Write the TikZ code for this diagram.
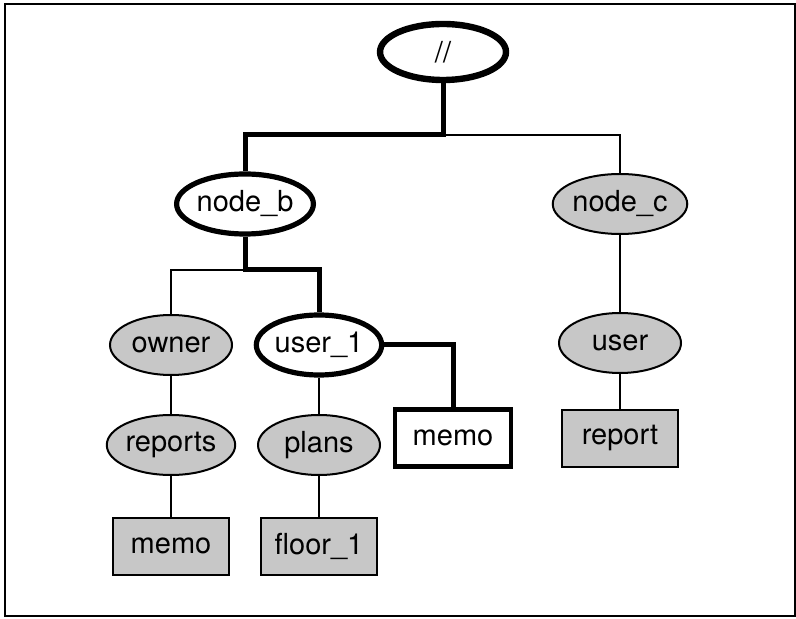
\documentclass[tikz,border=0pt]{standalone}
\usepackage{fontspec}
\setmainfont{TeX Gyre Heros}
\usetikzlibrary{shapes.geometric}

\tikzset{
	dir/.style={ellipse, draw, line width=1pt, fill=black!22, minimum width=61pt, minimum height=30pt, inner sep=0pt},
	dirpath/.style={dir, line width=2.6pt, fill=white},
	file/.style={rectangle, draw, line width=1pt, fill=black!22, minimum width=58pt, minimum height=28.5pt, inner sep=0pt},
	filepath/.style={file, line width=2.2pt, fill=white},
	link/.style={line width=1pt},
	pathlink/.style={line width=2.5pt}
}

\begin{document}
\begin{tikzpicture}[x=0.5pt, y=-0.5pt, font=\fontsize{14.5}{17}\selectfont]
	\useasboundingbox (0, 0) rectangle (796, 619);
	\draw[line width=1pt] (5, 4) rectangle (795, 616);
	% Nodes:
	\node[dirpath, line width=3.2pt, minimum width=63pt, minimum height=28pt](root) at (443, 52){//};
	\node[dirpath](nodeb) at (245, 204){node\_b};
	\node[dir](nodec) at (620, 204){node\_c};
	\node[dir](owner) at (171, 345){owner};
	\node[dirpath](user1) at (319, 345){user\_1};
	\node[dir](user) at (620, 343){user};
	\node[dir](reports) at (171, 445){reports};
	\node[dir](plans) at (319, 445){plans};
	\node[filepath](memob) at (453, 438){memo};
	\node[file](report) at (620, 438){report};
	\node[file](memoa) at (171, 546){memo};
	\node[file](floor) at (319, 546){floor\_1};
	% Junctions:
	\coordinate (j0) at (443, 135);
	\coordinate (j1) at (245, 270);
	% Wires:
	\draw[pathlink] (root) -- (j0) -| (nodeb);
	\draw[link] (j0) -| (nodec);
	\draw[pathlink] (nodeb) -- (j1) -| (user1);
	\draw[link] (j1) -| (owner);
	\draw[pathlink] (user1) -| (memob);
	\draw[link] (owner) -- (reports);
	\draw[link] (reports) -- (memoa);
	\draw[link] (user1) -- (plans);
	\draw[link] (plans) -- (floor);
	\draw[link] (nodec) -- (user);
	\draw[link] (user) -- (report);
\end{tikzpicture}
\end{document}
